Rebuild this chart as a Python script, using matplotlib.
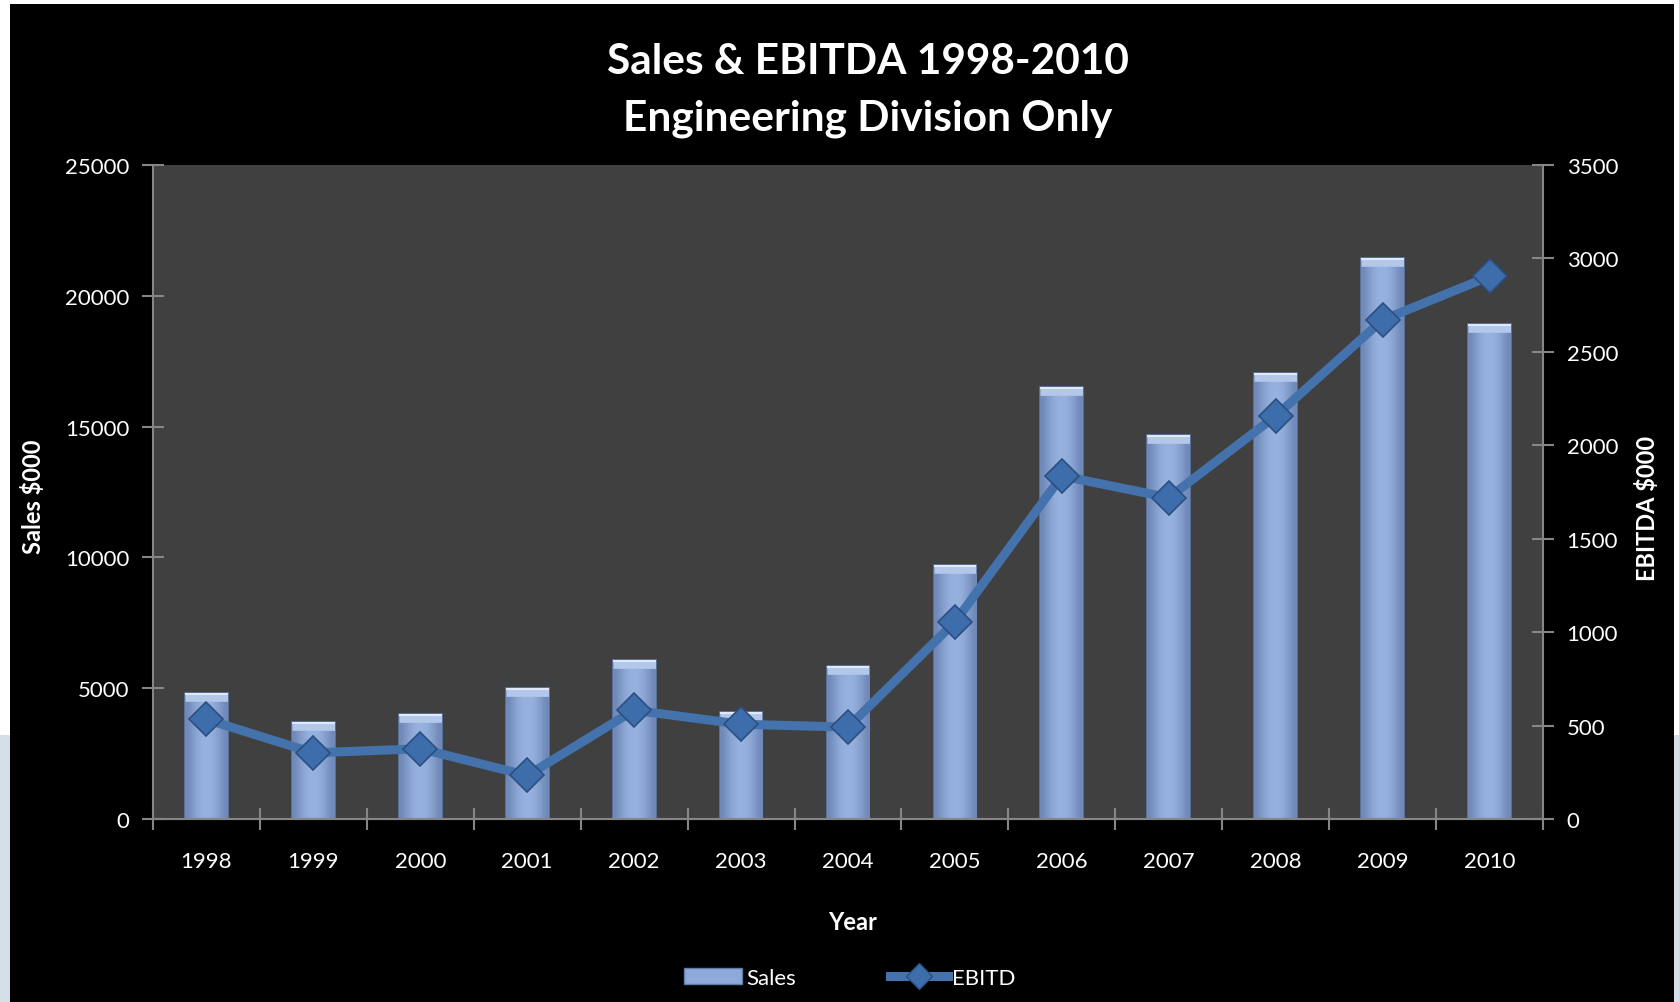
import numpy as np
import matplotlib
matplotlib.use('Agg')
import matplotlib.pyplot as plt
from matplotlib.patches import Rectangle, Patch
from matplotlib.lines import Line2D

plt.rcParams['font.family'] = ['Lato', 'DejaVu Sans']

years = ['1998', '1999', '2000', '2001', '2002', '2003', '2004',
         '2005', '2006', '2007', '2008', '2009', '2010']
sales = [4800, 3720, 4030, 4990, 6060, 4100, 5850,
         9700, 16530, 14680, 17060, 21430, 18940]
ebitda = [533, 354, 376, 233, 582, 507, 492,
          1054, 1836, 1720, 2157, 2671, 2904]

W, H = 1679, 1003
fig = plt.figure(figsize=(W / 100, H / 100), dpi=100, facecolor='white')

# page behind the chart (light strips at the edges)
fig.patches.append(Rectangle((0, 0), 1, 1 - 736 / H, transform=fig.transFigure,
                             facecolor='#d6dfe6', edgecolor='none', zorder=-3))
# black chart area
fig.patches.append(Rectangle((10 / W, 0), (1674 - 10) / W, 1 - 5 / H,
                             transform=fig.transFigure, facecolor='black',
                             edgecolor='none', zorder=-2))

ax = fig.add_axes([153 / W, 1 - 820 / H, (1543 - 153) / W, (820 - 166) / H])
ax.set_facecolor('#404040')
ax2 = ax.twinx()

x = np.arange(len(years))
bars = ax.bar(x, sales, width=0.40, color='#8eaadb', edgecolor='#5f7aa8',
              linewidth=1.2, zorder=2)

# horizontal shading on each bar
grad = np.array([[0.0, 0.55, 0.9, 1.0, 0.9, 0.55, 0.0]])
cmap = matplotlib.colors.LinearSegmentedColormap.from_list('b', ['#6f88b8', '#98b3e0'])
for b in bars:
    bx, by = b.get_x(), b.get_y()
    bw, bh = b.get_width(), b.get_height()
    im = ax.imshow(grad, cmap=cmap, aspect='auto', extent=(bx, bx + bw, by, by + bh),
                   zorder=2.5, interpolation='bicubic')
    im.set_clip_path(b)
    # light bevel along the top, kept inside the bar
    ln, = ax.plot([bx, bx + bw], [by + bh, by + bh], color='#b2c7ea', lw=12,
                  solid_capstyle='butt', zorder=2.6)
    ln.set_clip_path(b)
    ln2, = ax.plot([bx, bx + bw], [by + bh, by + bh], color='#dfe9f9', lw=3,
                   solid_capstyle='butt', zorder=2.7)
    ln2.set_clip_path(b)

ax.set_xlim(-0.5, len(years) - 0.5)
ax.set_ylim(0, 25000)
ax.set_yticks(np.arange(0, 25001, 5000))
ax2.set_ylim(0, 3500)
ax2.set_yticks(np.arange(0, 3501, 500))

ax2.plot(x, ebitda, color='#4472ac', lw=6.5, marker='D', markersize=17,
         markerfacecolor='#3d6eab', markeredgecolor='#2a4f80', markeredgewidth=1.2,
         zorder=5)

# category ticks between years, labels at the centres
ax.set_xticks(np.arange(-0.5, len(years), 1.0))
ax.set_xticklabels([])
ax.set_xticks(x, minor=True)
ax.set_xticklabels(years, minor=True)
ax.tick_params(axis='x', which='minor', length=0, pad=23, labelsize=16, labelcolor='white')
ax.tick_params(axis='x', which='major', direction='inout', length=16, width=1.5, color='#868686')
ax.tick_params(axis='y', direction='inout', length=16, width=1.5, color='#868686',
               labelsize=16, labelcolor='white', pad=9)
ax2.tick_params(axis='y', direction='inout', length=16, width=1.5, color='#868686',
                labelsize=16, labelcolor='white', pad=9)

for a in (ax, ax2):
    for s in a.spines.values():
        s.set_visible(False)
    a.spines['bottom'].set_visible(True)
    a.spines['bottom'].set_color('#868686')
    a.spines['bottom'].set_linewidth(1.5)
ax.spines['left'].set_visible(True)
ax.spines['left'].set_color('#868686')
ax.spines['left'].set_linewidth(1.5)
ax2.spines['right'].set_visible(True)
ax2.spines['right'].set_color('#868686')
ax2.spines['right'].set_linewidth(1.5)

fig.text(868 / W, 1 - 62 / H, 'Sales & EBITDA 1998-2010', ha='center', va='center',
         color='white', fontsize=30.5, fontweight='bold')
fig.text(868 / W, 1 - 119 / H, 'Engineering Division Only', ha='center', va='center',
         color='white', fontsize=30.5, fontweight='bold')
fig.text(33 / W, 1 - 497 / H, 'Sales $000', rotation=90, ha='center', va='center',
         color='white', fontsize=17, fontweight='bold')
fig.text(1647 / W, 1 - 508 / H, 'EBITDA $000', rotation=90, ha='center', va='center',
         color='white', fontsize=17, fontweight='bold')
fig.text(853 / W, 1 - 923 / H, 'Year', ha='center', va='center',
         color='white', fontsize=17, fontweight='bold')

handles = [Patch(facecolor='#8eaadb', edgecolor='#5f7aa8'),
           Line2D([], [], color='#4472ac', lw=6.5, marker='D', markersize=13,
                  markerfacecolor='#3d6eab', markeredgecolor='#2a4f80')]
leg = fig.legend(handles, ['Sales', 'EBITD'], loc='center', bbox_to_anchor=(850 / W, 1 - 979 / H),
                 ncol=2, frameon=False, fontsize=16, labelcolor='white',
                 handlelength=2.6, handletextpad=0.2, columnspacing=4.2)

fig.savefig('out.png', dpi=100, facecolor=fig.get_facecolor())
